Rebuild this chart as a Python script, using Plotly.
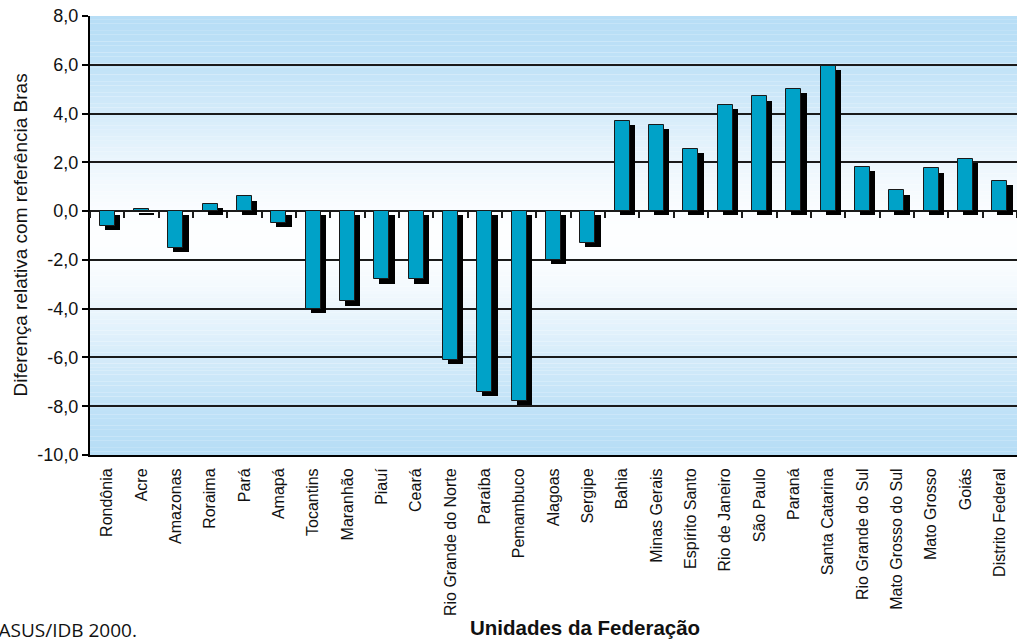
import plotly.graph_objects as go

# Unidades da Federação and relative difference vs. the national reference
estados = [
    "Rondônia", "Acre", "Amazonas", "Roraima", "Pará", "Amapá", "Tocantins",
    "Maranhão", "Piauí", "Ceará", "Rio Grande do Norte", "Paraíba", "Pemambuco",
    "Alagoas", "Sergipe", "Bahia", "Minas Gerais", "Espírito Santo",
    "Rio de Janeiro", "São Paulo", "Paraná", "Santa Catarina",
    "Rio Grande do Sul", "Mato Grosso do Sul", "Mato Grosso", "Goiás",
    "Distrito Federal",
]
diferenca = [
    -0.6, 0.1, -1.5, 0.3, 0.6, -0.5, -4.0,
    -3.7, -2.8, -2.8, -6.1, -7.4, -7.8,
    -2.0, -1.3, 3.7, 3.55, 2.55,
    4.35, 4.7, 5.0, 5.95,
    1.8, 0.85, 1.75, 2.15,
    1.25,
]
y_tick_vals = [8, 6, 4, 2, 0, -2, -4, -6, -8, -10]
y_tick_text = ["8,0", "6,0", "4,0", "2,0", "0,0", "-2,0", "-4,0", "-6,0", "-8,0", "-10,0"]

Y_MIN, Y_MAX = -10, 8
BAR_W = 0.44          # bar width in category units
SHADOW_DX = 0.15      # drop-shadow shift, category units
SHADOW_DY = 0.17      # drop-shadow shift, value units

FONT = "Liberation Sans"
EDGE_RGB = (184, 222, 246)
CENTER_RGB = (253, 254, 255)

n_cat = len(estados)

fig = go.Figure()

# drop shadow behind every bar
fig.add_trace(go.Bar(
    x=estados, y=diferenca, base=-SHADOW_DY,
    width=BAR_W, offset=-BAR_W / 2 + SHADOW_DX,
    marker=dict(color="black", line=dict(width=0)),
    hoverinfo="skip", showlegend=False,
))
# main bars
fig.add_trace(go.Bar(
    x=estados, y=diferenca,
    width=BAR_W, offset=-BAR_W / 2,
    marker=dict(color="#00A2C8", line=dict(color="#1a1a1a", width=1)),
    showlegend=False,
))
# carrier for the tick marks along the zero line
fig.add_trace(go.Scatter(
    x=estados, y=[None] * n_cat, xaxis="x2",
    mode="markers", showlegend=False, hoverinfo="skip",
))

# vertical gradient background: light blue at the edges, white in the middle
shapes = []
n_strips = 120
mid = (Y_MIN + Y_MAX) / 2
half = (Y_MAX - Y_MIN) / 2
step = (Y_MAX - Y_MIN) / n_strips
for i in range(n_strips):
    y0 = Y_MIN + i * step
    yc = y0 + step / 2
    t = min(abs(yc - mid) / half, 1.0)
    f = 3 * t ** 2 - 2 * t ** 3
    rgb = tuple(round(c + (e - c) * f) for c, e in zip(CENTER_RGB, EDGE_RGB))
    shapes.append(dict(
        type="rect", xref="paper", yref="y", x0=0, x1=1, y0=y0, y1=y0 + step * 1.02,
        fillcolor="rgb(%d,%d,%d)" % rgb, line=dict(width=0), layer="below",
    ))

x_range = [-0.5, n_cat - 0.5]

fig.update_layout(
    width=1017, height=639, autosize=False,
    margin=dict(l=90, r=0, t=16, b=184),
    paper_bgcolor="white", plot_bgcolor="white",
    barmode="overlay", bargap=0,
    font=dict(family=FONT, color="#111111"),
    shapes=shapes,
    xaxis=dict(
        type="category", range=x_range, showline=True, linewidth=2, linecolor="black",
        ticks="outside", ticklen=5, tickcolor="rgba(0,0,0,0)",
        tickangle=-90, tickfont=dict(size=16, family=FONT, color="#111111"),
        showgrid=False, zeroline=False, fixedrange=True,
    ),
    xaxis2=dict(
        type="category", overlaying="x", matches="x", anchor="free",
        position=(0 - Y_MIN) / (Y_MAX - Y_MIN), side="bottom",
        ticks="outside", tickson="boundaries", ticklen=6, tickwidth=1.5,
        tickcolor="#1a1a1a", showticklabels=False, showline=False,
        showgrid=False, zeroline=False,
    ),
    yaxis=dict(
        range=[Y_MIN, Y_MAX], tickvals=y_tick_vals, ticktext=y_tick_text,
        ticks="outside", ticklen=6, tickwidth=1.5, tickcolor="black",
        tickfont=dict(size=18, family=FONT, color="#111111"),
        showline=True, linewidth=2, linecolor="black",
        showgrid=True, gridcolor="#1a1a1a", gridwidth=1.5,
        zeroline=False, fixedrange=True,
    ),
    annotations=[
        dict(text="Diferença relativa com referência Bras", textangle=-90,
             xref="paper", yref="paper", x=(20 - 90) / 927, y=0.5,
             xanchor="center", yanchor="middle", showarrow=False,
             font=dict(size=19, family=FONT, color="#111111")),
        dict(text="<b>Unidades da Federação</b>",
             xref="paper", yref="paper", x=(585 - 90) / 927, y=(455 - 627) / 439,
             xanchor="center", yanchor="middle", showarrow=False,
             font=dict(size=20.5, family=FONT, color="#111111")),
        dict(text="Fonte: DATASUS/IDB 2000.",
             xref="paper", yref="paper", x=(139 - 90) / 927, y=(455 - 630) / 439,
             xanchor="right", yanchor="middle", showarrow=False,
             font=dict(size=19, family="Open Sans", color="#111111")),
    ],
)

fig.write_html("out.html", config={"displayModeBar": False})
